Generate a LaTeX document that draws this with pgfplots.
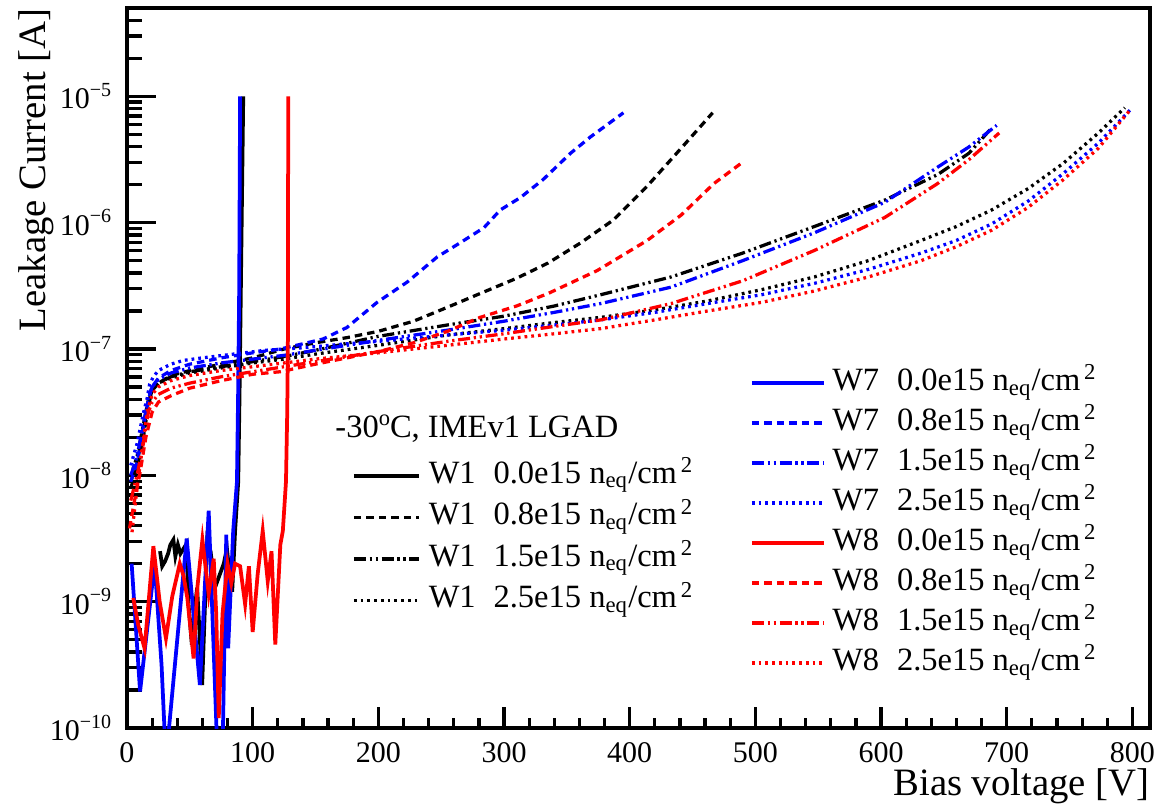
\documentclass[border=0pt]{standalone}
\usepackage{fontspec}
\setmainfont{Liberation Serif}
\usepackage{pgfplots}
\pgfplotsset{compat=1.18}
\definecolor{rootblue}{RGB}{0,0,255}
\definecolor{rootred}{RGB}{255,0,0}
\tikzset{
  solidc/.style={line width=1.5pt},
  dashc/.style={line width=1.3pt, dash pattern=on 3pt off 2pt},
  dddc/.style={line width=1.3pt, dash pattern=on 4.8pt off 1.5pt on 0.9pt off 1.5pt on 0.9pt off 1.5pt},
  dotc/.style={line width=1.3pt, dash pattern=on 1.1pt off 1.6pt},
}
\newcommand{\neqcm}{n\textsubscript{eq}/cm\textsuperscript{\,2}}
\newcommand{\ent}[2]{#1\hspace{0.55em}#2 \neqcm}
\newcommand{\expo}[1]{10\raisebox{5pt}{\fontsize{8}{9}\selectfont\textminus#1}}
\begin{document}
\begin{tikzpicture}
% ---------------- axis 1: frame, x axis, W1 series ----------------
\begin{axis}[
  scale only axis, width=409.2pt, height=288pt,
  at={(0pt,0pt)}, anchor=south west,
  xmin=0, xmax=814, ymode=log, ymin=1e-10, ymax=5e-5,
  tick pos=left, tick align=inside,
  legend cell align=left,
  every tick/.style={black, line width=1.3pt},
  axis line style={line width=1.4pt},
  major tick length=8.4pt, minor tick length=4pt,
  xtick={0,100,...,800}, minor x tick num=4,
  ytick=\empty, yminorticks=false,
  xticklabel style={font=\fontsize{12}{14}\selectfont, inner sep=0pt, yshift=-5.8pt},
  /pgf/number format/assume math mode=true,
  xlabel={Bias voltage [V]},
  xlabel style={at={(axis description cs:1,0)}, anchor=base east, inner sep=0pt, yshift=-26.8pt, font=\fontsize{15.5}{18}\selectfont},
  legend image code/.code={\draw[#1] (0pt,0pt) -- (26pt,0pt);},
  legend style={draw=none, fill=none, inner sep=0pt, outer sep=0pt,
    at={(axis description cs:0.22,0.3744)}, anchor=north west,
    row sep=2.6pt, column sep=3.2pt,
    font=\fontsize{13}{15}\selectfont,
    nodes={inner sep=0pt, text height=10pt, text depth=4pt}},
]
% W1 0.0e15
\addplot[black, solidc] coordinates {
(26.3,2.51e-9) (28,1.91e-9) (30.3,2.09e-9) (32.7,2.4e-9) (34.5,2.82e-9) (36.9,3.09e-9)
(38.5,2.29e-9) (40.5,2.82e-9) (42.5,2.4e-9) (45,2.63e-9) (47.5,2.88e-9) (48.8,1.0e-9)
(51.6,4.57e-10) (53.5,8e-10) (55.8,1.29e-9) (57.8,5.5e-10) (59.8,2.19e-10) (61.8,8e-10)
(63.8,3.02e-9) (66.5,2.5e-9) (70,1.29e-9) (74,1.66e-9) (77,2.0e-9) (79.5,2.63e-9)
(81.5,1.7e-9) (83.7,1.2e-9) (86,3.63e-9) (88.5,8.91e-9) (89.5,4e-8) (90.5,2.5e-7)
(91.5,1.6e-6) (92.5,1e-5)};
\addlegendentry{\ent{W1}{0.0e15}}
% W1 0.8e15
\addplot[black, dashc] coordinates {
(3,7.94e-9) (8,1.12e-8) (13,2.00e-8) (17,3.55e-8) (20,4.68e-8) (25,5.37e-8) (35,6.17e-8)
(50,6.76e-8) (75,7.59e-8) (100,8.51e-8) (125,1.00e-7) (150,1.12e-7) (175,1.23e-7)
(200,1.38e-7) (228,1.66e-7) (255,2.14e-7) (281,2.75e-7) (310,3.63e-7) (335,4.79e-7)
(361,6.92e-7) (387,1.05e-6) (414,1.95e-6) (441,3.89e-6) (466,7.41e-6)};
\addlegendentry{\ent{W1}{0.8e15}}
% W1 1.5e15
\addplot[black, dddc] coordinates {
(3,8.91e-9) (8,1.26e-8) (13,2.24e-8) (17,3.80e-8) (20,4.68e-8) (25,5.37e-8) (35,6.03e-8)
(50,6.61e-8) (75,7.24e-8) (100,7.94e-8) (125,8.71e-8) (150,9.77e-8) (200,1.26e-7)
(255,1.55e-7) (300,1.82e-7) (340,2.19e-7) (377,2.69e-7) (433,3.72e-7) (490,5.75e-7)
(547,9.33e-7) (603,1.51e-6) (645,2.40e-6) (670,3.55e-6) (688,5.62e-6)};
\addlegendentry{\ent{W1}{1.5e15}}
% W1 2.5e15
\addplot[black, dotc] coordinates {
(3,1.00e-8) (8,1.41e-8) (13,2.51e-8) (17,3.98e-8) (20,4.79e-8) (25,5.37e-8) (35,5.89e-8)
(50,6.46e-8) (75,7.08e-8) (100,7.76e-8) (125,8.32e-8) (150,9.12e-8) (200,1.07e-7)
(255,1.29e-7) (300,1.45e-7) (340,1.62e-7) (377,1.78e-7) (420,2.04e-7) (462,2.40e-7)
(505,2.95e-7) (547,3.72e-7) (590,5.01e-7) (632,7.24e-7) (660,9.33e-7) (688,1.26e-6)
(717,1.86e-6) (745,2.95e-6) (773,5.13e-6) (794,8.13e-6)};
\addlegendentry{\ent{W1}{2.5e15}}
\node[anchor=base west, inner sep=0pt, font=\fontsize{13}{15}\selectfont]
  at (axis description cs:0.2033,0.4029) {-30\raisebox{5pt}{\fontsize{9}{10}\selectfont o}C, IMEv1 LGAD};
\end{axis}
% ---------------- axis 2: y axis, W7 and W8 series ----------------
\begin{axis}[
  scale only axis, width=409.2pt, height=288pt,
  at={(0pt,0pt)}, anchor=south west,
  xmin=0, xmax=814, ymode=log, ymin=1e-10, ymax=5e-5,
  tick pos=left, tick align=inside,
  legend cell align=left,
  every tick/.style={black, line width=1.3pt},
  axis line style={draw=none},
  major tick length=11.5pt, minor tick length=6pt,
  xtick=\empty, xminorticks=false,
  ytick={1e-10,1e-9,1e-8,1e-7,1e-6,1e-5},
  yticklabels={\expo{10},\expo{9},\expo{8},\expo{7},\expo{6},\expo{5}},
  minor ytick={2e-10,3e-10,4e-10,5e-10,6e-10,7e-10,8e-10,9e-10,
               2e-9,3e-9,4e-9,5e-9,6e-9,7e-9,8e-9,9e-9,
               2e-8,3e-8,4e-8,5e-8,6e-8,7e-8,8e-8,9e-8,
               2e-7,3e-7,4e-7,5e-7,6e-7,7e-7,8e-7,9e-7,
               2e-6,3e-6,4e-6,5e-6,6e-6,7e-6,8e-6,9e-6,
               2e-5,3e-5,4e-5},
  yticklabel style={font=\fontsize{12}{14}\selectfont, xshift=-2.8pt},
  ylabel={Leakage Current [A]},
  ylabel style={at={(axis description cs:-0.0792,1)}, anchor=base east, inner sep=0pt, font=\fontsize{15.5}{18}\selectfont},
  legend image code/.code={\draw[#1] (0pt,0pt) -- (29pt,0pt);},
  legend style={draw=none, fill=none, inner sep=0pt, outer sep=0pt,
    at={(axis description cs:0.609,0.5035)}, anchor=north west,
    row sep=2pt, column sep=2.4pt,
    font=\fontsize{13}{15}\selectfont,
    nodes={inner sep=0pt, text height=10pt, text depth=4pt}},
]
% W7 0.0e15
\addplot[rootblue, solidc] coordinates {
(3.7,2.0e-9) (10.4,1.95e-10) (22,2.0e-9) (27.5,3.16e-10) (30.5,7e-11) (33,9e-11)
(47.5,3.16e-9) (58,2.19e-10) (65,5.25e-9) (72,6e-11) (76,6e-11) (79,3.39e-9)
(80.5,4.27e-10) (84.5,3.63e-9) (87.5,8.91e-9) (88.5,5.01e-8) (89.3,3.16e-7) (90,1e-5)};
\addlegendentry{\ent{W7}{0.0e15}}
% W7 0.8e15
\addplot[rootblue, dashc] coordinates {
(3,8.91e-9) (8,1.26e-8) (13,2.40e-8) (17,3.98e-8) (20,5.01e-8) (25,5.89e-8) (35,6.76e-8)
(50,7.59e-8) (75,8.51e-8) (100,9.33e-8) (122,1.00e-7) (140,1.10e-7) (156,1.20e-7)
(175,1.48e-7) (199,2.34e-7) (223,3.39e-7) (247,5.37e-7) (265,6.92e-7) (284,9.12e-7)
(297,1.26e-6) (313,1.58e-6) (331,2.19e-6) (353,3.55e-6) (369,4.79e-6) (395,7.41e-6)};
\addlegendentry{\ent{W7}{0.8e15}}
% W7 1.5e15
\addplot[rootblue, dddc] coordinates {
(3,1.00e-8) (8,1.41e-8) (13,2.51e-8) (17,4.17e-8) (20,5.01e-8) (25,5.75e-8) (35,6.46e-8)
(50,7.08e-8) (75,7.76e-8) (100,8.32e-8) (125,8.91e-8) (150,9.77e-8) (200,1.17e-7)
(255,1.41e-7) (300,1.66e-7) (340,1.95e-7) (377,2.29e-7) (433,3.09e-7) (490,5.01e-7)
(547,8.32e-7) (603,1.45e-6) (645,2.75e-6) (670,3.98e-6) (692,5.89e-6)};
\addlegendentry{\ent{W7}{1.5e15}}
% W7 2.5e15
\addplot[rootblue, dotc] coordinates {
(3,1.20e-8) (8,1.78e-8) (13,3.09e-8) (16,4.07e-8) (18,5.25e-8) (21,6.03e-8) (25,6.76e-8)
(35,7.59e-8) (45,8.13e-8) (60,8.51e-8) (85,9.12e-8) (110,9.77e-8) (138,1.02e-7)
(175,1.10e-7) (200,1.15e-7) (255,1.29e-7) (300,1.41e-7) (340,1.55e-7) (377,1.70e-7)
(420,1.95e-7) (462,2.29e-7) (505,2.69e-7) (547,3.31e-7) (590,4.27e-7) (632,5.75e-7)
(660,7.24e-7) (688,9.77e-7) (717,1.48e-6) (745,2.45e-6) (773,4.27e-6) (798,7.76e-6)};
\addlegendentry{\ent{W7}{2.5e15}}
% W8 0.0e15
\addplot[rootred, solidc] coordinates {
(5,1.07e-9) (9,6.5e-10) (14,4.27e-10) (21,2.75e-9) (26,1.0e-9) (31,5.13e-10) (36,1.1e-9)
(42,2.0e-9) (45,1.6e-9) (48,1.07e-9) (53,3.55e-10) (56,1.3e-9) (60,3.09e-9) (65,1.15e-9)
(69,2.19e-9) (71,8e-10) (73,1.2e-10) (76,8e-10) (80,2.0e-9) (83,1.4e-9) (86,2.0e-9)
(90,1.91e-9) (94,9.55e-10) (97,1.91e-9) (100,5.75e-10) (104,1.66e-9) (108,3.63e-9)
(112,1.45e-9) (115,2.51e-9) (118,4.57e-10) (122,2.82e-9) (124,3.63e-9) (126.5,8.91e-9)
(127.5,3.16e-8) (128,1e-7) (128.3,1e-5)};
\addlegendentry{\ent{W8}{0.0e15}}
% W8 0.8e15
\addplot[rootred, dashc] coordinates {
(2,3.80e-9) (6,6.31e-9) (10,1.00e-8) (15,2.00e-8) (20,3.16e-8) (25,3.80e-8) (35,4.27e-8)
(50,4.90e-8) (75,5.62e-8) (100,6.31e-8) (122,6.61e-8) (150,7.59e-8) (175,8.51e-8)
(200,9.55e-8) (228,1.12e-7) (255,1.38e-7) (281,1.78e-7) (310,2.19e-7) (335,2.75e-7)
(374,4.17e-7) (414,7.24e-7) (441,1.15e-6) (467,2.04e-6) (490,3.02e-6)};
\addlegendentry{\ent{W8}{0.8e15}}
% W8 1.5e15
\addplot[rootred, dddc] coordinates {
(3,6.31e-9) (8,1.00e-8) (13,1.78e-8) (17,3.16e-8) (20,3.80e-8) (25,4.37e-8) (35,4.90e-8)
(50,5.37e-8) (75,6.03e-8) (100,6.61e-8) (125,7.24e-8) (150,7.94e-8) (200,9.55e-8)
(255,1.15e-7) (300,1.32e-7) (340,1.51e-7) (377,1.70e-7) (433,2.29e-7) (490,3.47e-7)
(547,6.03e-7) (603,1.10e-6) (645,2.04e-6) (670,3.16e-6) (694,5.13e-6)};
\addlegendentry{\ent{W8}{1.5e15}}
% W8 2.5e15
\addplot[rootred, dotc] coordinates {
(4,3.55e-9) (8,7.94e-9) (12,1.58e-8) (16,3.16e-8) (20,4.37e-8) (25,5.01e-8) (35,5.62e-8)
(50,6.17e-8) (75,6.76e-8) (100,7.24e-8) (125,7.76e-8) (150,8.32e-8) (200,9.33e-8)
(255,1.07e-7) (300,1.20e-7) (340,1.32e-7) (377,1.45e-7) (420,1.70e-7) (462,2.00e-7)
(505,2.34e-7) (547,2.88e-7) (590,3.72e-7) (632,5.01e-7) (660,6.46e-7) (688,8.71e-7)
(717,1.32e-6) (745,2.19e-6) (773,3.89e-6) (798,7.76e-6)};
\addlegendentry{\ent{W8}{2.5e15}}
\end{axis}
\pgfresetboundingbox
\path[use as bounding box] (-50.8pt,-31.2pt) rectangle (412pt,291.2pt);
\end{tikzpicture}
\end{document}
